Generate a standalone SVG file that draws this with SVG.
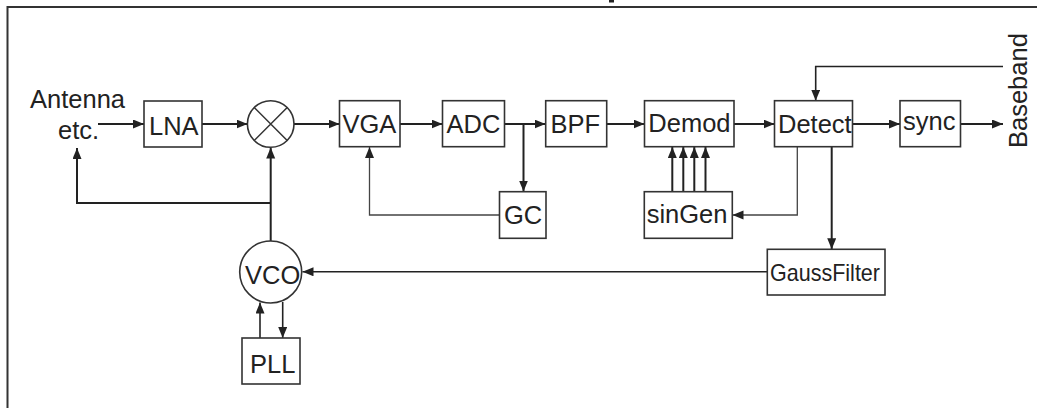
<svg xmlns="http://www.w3.org/2000/svg" width="1037" height="408" viewBox="0 0 1037 408">
<style>
.box{fill:#fff;stroke:#333;stroke-width:1.6}
.lbl{font-family:"Liberation Sans",Arial,sans-serif;font-size:25.5px;fill:#222}
.ln{fill:none;stroke:#222;stroke-width:2}
.thin{fill:none;stroke:#444;stroke-width:1.3}
</style>
<defs>
<marker id="ah" markerUnits="userSpaceOnUse" markerWidth="12" markerHeight="10" refX="11" refY="4.5" orient="auto">
<path d="M0,0 L11,4.5 L0,9 z" fill="#222"/>
</marker>
</defs>
<rect width="1037" height="408" fill="#fff"/>
<g id="frame">
<path d="M7.5,408 V7 H1037" fill="none" stroke="#333" stroke-width="2"/>
<rect x="609" y="0" width="5" height="2.5" fill="#222"/>
</g>
<g id="connectors">
<line class="ln" x1="98" y1="124" x2="144" y2="124" marker-end="url(#ah)"/>
<line class="ln" x1="202" y1="124" x2="247.5" y2="124" marker-end="url(#ah)"/>
<line class="ln" x1="294" y1="124" x2="339.5" y2="124" marker-end="url(#ah)"/>
<line class="ln" x1="400" y1="124" x2="442.5" y2="124" marker-end="url(#ah)"/>
<line class="ln" x1="504" y1="124" x2="545.5" y2="124" marker-end="url(#ah)"/>
<line class="ln" x1="523.5" y1="124" x2="523.5" y2="191.5" marker-end="url(#ah)"/>
<polyline class="thin" points="499.5,215 369.5,215 369.5,147" marker-end="url(#ah)"/>
<line class="ln" x1="606.5" y1="124" x2="644.5" y2="124" marker-end="url(#ah)"/>
<line class="ln" x1="734" y1="124" x2="774.5" y2="124" marker-end="url(#ah)"/>
<line class="ln" x1="852" y1="124" x2="900" y2="124" marker-end="url(#ah)"/>
<line class="ln" x1="960.5" y1="124" x2="1003" y2="124" marker-end="url(#ah)"/>
<polyline class="ln" points="1003,66.5 815.7,66.5 815.7,100.7" marker-end="url(#ah)" style="stroke-width:1.6"/>
<line class="ln" x1="672.3" y1="191.7" x2="672.3" y2="147" marker-end="url(#ah)"/>
<line class="ln" x1="683.3" y1="191.7" x2="683.3" y2="147" marker-end="url(#ah)"/>
<line class="ln" x1="694.3" y1="191.7" x2="694.3" y2="147" marker-end="url(#ah)"/>
<line class="ln" x1="705.5" y1="191.7" x2="705.5" y2="147" marker-end="url(#ah)"/>
<polyline class="thin" points="797.3,146.7 797.3,215 732.5,215" marker-end="url(#ah)"/>
<line class="ln" x1="831.7" y1="146.7" x2="831.7" y2="249.3" marker-end="url(#ah)"/>
<line class="ln" x1="767.3" y1="271.8" x2="302.5" y2="271.8" marker-end="url(#ah)" style="stroke-width:1.6"/>
<line class="ln" x1="270.7" y1="241" x2="270.7" y2="147.5" marker-end="url(#ah)"/>
<polyline class="ln" points="270.7,203 77,203 77,148" marker-end="url(#ah)"/>
<line class="ln" x1="260" y1="338" x2="260" y2="302.5" marker-end="url(#ah)" style="stroke-width:1.6"/>
<line class="ln" x1="282.7" y1="302" x2="282.7" y2="338" marker-end="url(#ah)" style="stroke-width:1.6"/>
</g>
<g id="antenna">
<text class="lbl" x="30" y="108">Antenna</text>
<text class="lbl" x="58" y="139">etc.</text>
</g>
<g id="lna">
<rect class="box" x="144" y="101" width="58" height="46"/>
<text class="lbl" x="149" y="135">LNA</text>
</g>
<g id="mixer">
<circle cx="270.7" cy="124" r="23.3" fill="#fff" stroke="#333" stroke-width="1.6"/>
<path d="M254.2,107.5 L287.2,140.5 M287.2,107.5 L254.2,140.5" stroke="#333" stroke-width="1.5"/>
</g>
<g id="vga">
<rect class="box" x="339.5" y="100.7" width="60.5" height="46"/>
<text class="lbl" x="342.5" y="133.3">VGA</text>
</g>
<g id="adc">
<rect class="box" x="442.5" y="100.7" width="62" height="46"/>
<text class="lbl" x="446.5" y="133.3">ADC</text>
</g>
<g id="bpf">
<rect class="box" x="545.7" y="100.7" width="61" height="46"/>
<text class="lbl" x="550.5" y="133.3">BPF</text>
</g>
<g id="gc">
<rect class="box" x="499.5" y="191.7" width="46.5" height="46.6"/>
<text class="lbl" x="504" y="224">GC</text>
</g>
<g id="demod">
<rect class="box" x="644.5" y="100.7" width="89.5" height="46"/>
<text class="lbl" x="648.3" y="132">Demod</text>
</g>
<g id="singen">
<rect class="box" x="644.3" y="191.7" width="88" height="46.6"/>
<text class="lbl" x="646.7" y="222.5">sinGen</text>
</g>
<g id="detect">
<rect class="box" x="774.5" y="100.7" width="78" height="46"/>
<text class="lbl" x="778" y="132.5">Detect</text>
</g>
<g id="sync">
<rect class="box" x="900" y="100.7" width="60.5" height="46"/>
<text class="lbl" x="903" y="130">sync</text>
</g>
<g id="baseband">
<text class="lbl" transform="translate(1027,148) rotate(-90)">Baseband</text>
</g>
<g id="gaussfilter">
<rect class="box" x="767.3" y="249.3" width="117.7" height="45.7"/>
<text class="lbl" x="770" y="280.5" textLength="110" lengthAdjust="spacingAndGlyphs" style="font-size:24px">GaussFilter</text>
</g>
<g id="vco">
<circle cx="270.7" cy="272" r="31" fill="#fff" stroke="#333" stroke-width="1.6"/>
<text class="lbl" x="245" y="284">VCO</text>
</g>
<g id="pll">
<rect class="box" x="242" y="338" width="58" height="46"/>
<text class="lbl" x="250" y="372.7">PLL</text>
</g>
</svg>
